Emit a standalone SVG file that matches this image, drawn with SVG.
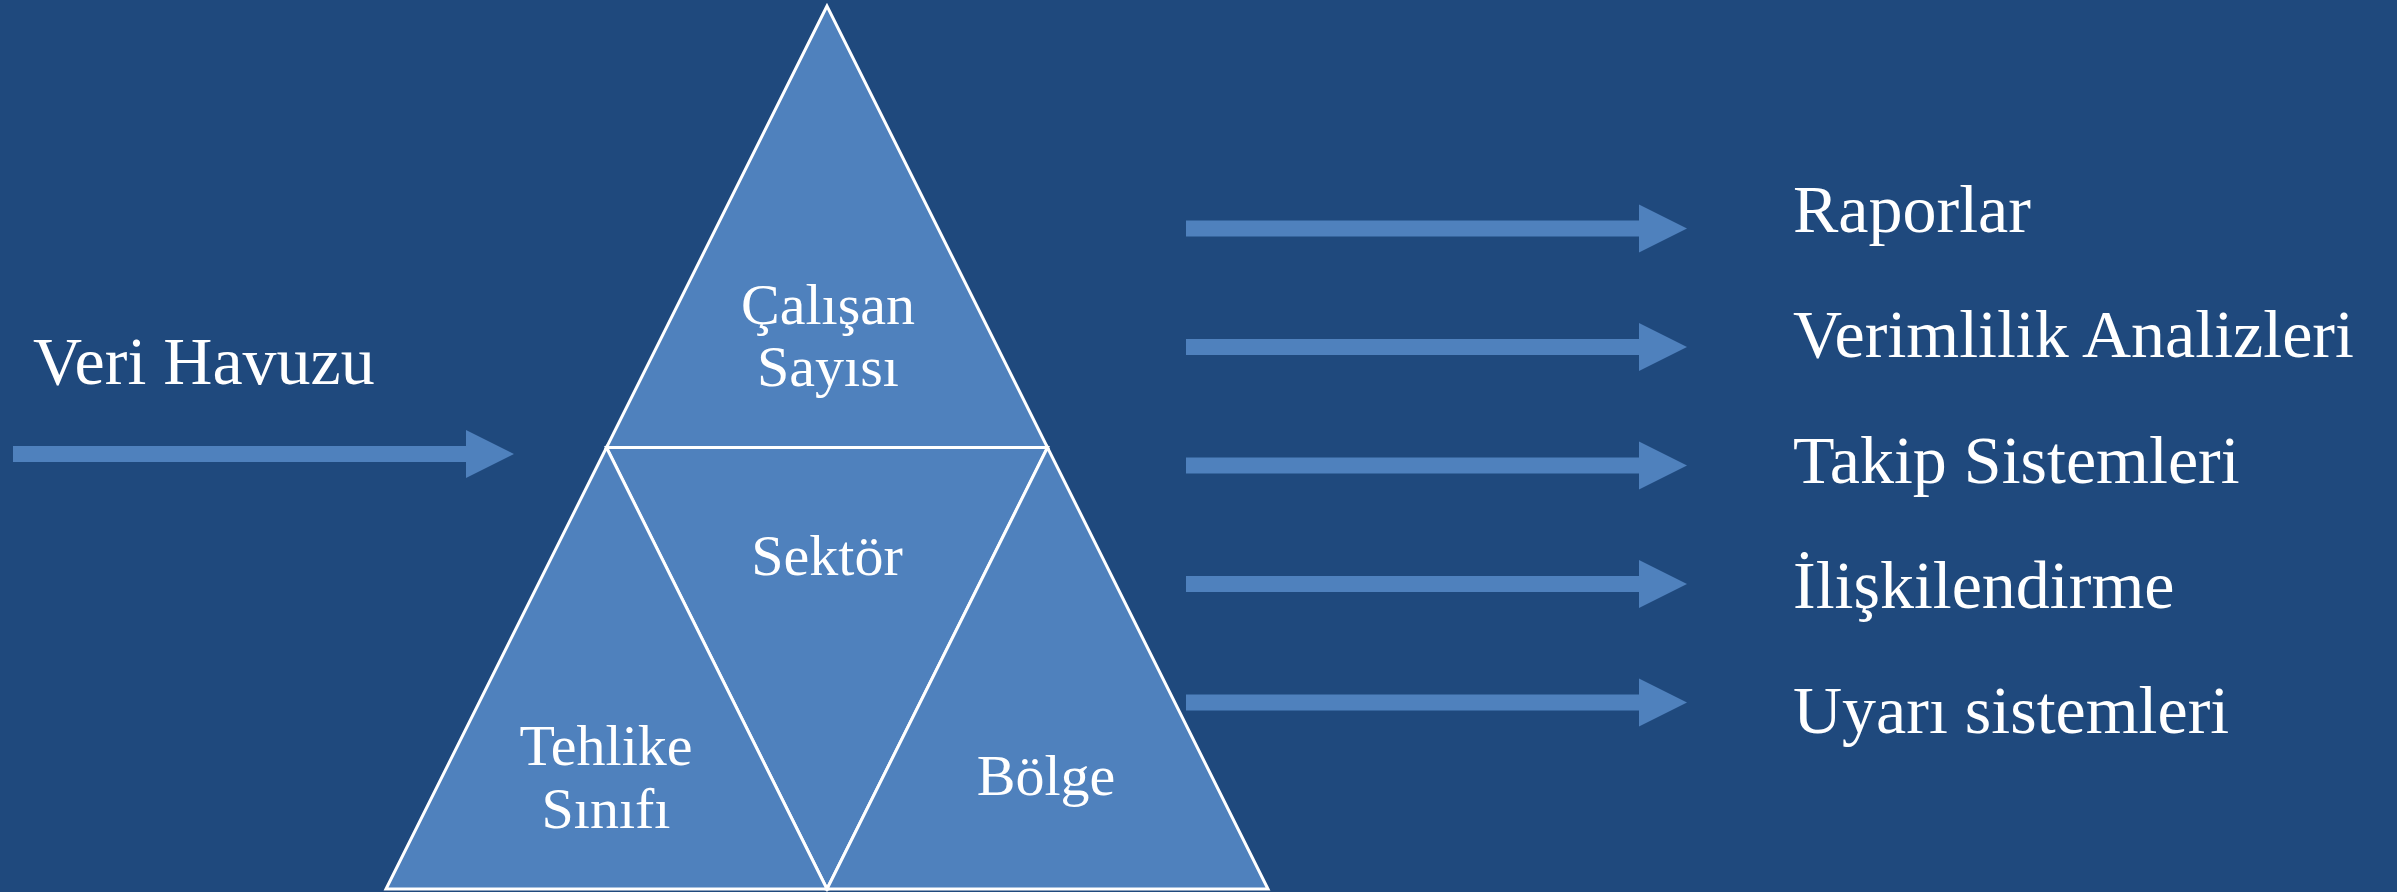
<svg xmlns="http://www.w3.org/2000/svg" width="2397" height="892" viewBox="0 0 2397 892">
<style>
.bg{fill:#1F497D}
.tri{fill:#4F81BD;stroke:#FFFFFF;stroke-width:3;stroke-linejoin:miter}
.arr{fill:#4F81BD}
.t{font-family:"Liberation Serif","Times New Roman",serif;fill:#FFFFFF}
.big{font-size:68px}
.mid{font-size:58px;text-anchor:middle}
</style>
<defs>
<path id="rarrow" d="M0,-8 H453 V-24 L501,0 L453,24 V8 H0 Z"/>
</defs>
<rect class="bg" x="0" y="0" width="2397" height="892"/>
<g id="pyramid">
<g id="node-calisan"><polygon class="tri" points="827,6 606.5,447.5 1047.5,447.5"/><text class="t mid" x="828" y="324">Çalışan</text><text class="t mid" x="828" y="386">Sayısı</text></g>
<g id="node-sektor"><polygon class="tri" points="606.5,447.5 1047.5,447.5 827,889"/><text class="t mid" x="827" y="575">Sektör</text></g>
<g id="node-tehlike"><polygon class="tri" points="606.5,447.5 386,889 827,889"/><text class="t mid" x="606" y="765">Tehlike</text><text class="t mid" x="606" y="828">Sınıfı</text></g>
<g id="node-bolge"><polygon class="tri" points="1047.5,447.5 827,889 1268,889"/><text class="t mid" x="1046" y="795">Bölge</text></g>
</g>
<g id="node-veri"><text class="t big" x="33" y="384">Veri Havuzu</text></g>
<g id="node-raporlar"><text class="t big" x="1793" y="232">Raporlar</text></g>
<g id="node-verimlilik"><text class="t big" x="1793" y="357">Verimlilik Analizleri</text></g>
<g id="node-takip"><text class="t big" x="1793" y="483">Takip Sistemleri</text></g>
<g id="node-iliskilendirme"><text class="t big" x="1793" y="608">İlişkilendirme</text></g>
<g id="node-uyari"><text class="t big" x="1793" y="733">Uyarı sistemleri</text></g>
<g id="connectors">
<use class="arr" href="#rarrow" transform="translate(13,454)"/>
<use class="arr" href="#rarrow" transform="translate(1186,228.5)"/>
<use class="arr" href="#rarrow" transform="translate(1186,347)"/>
<use class="arr" href="#rarrow" transform="translate(1186,465.5)"/>
<use class="arr" href="#rarrow" transform="translate(1186,584)"/>
<use class="arr" href="#rarrow" transform="translate(1186,702.5)"/>
</g>
</svg>
